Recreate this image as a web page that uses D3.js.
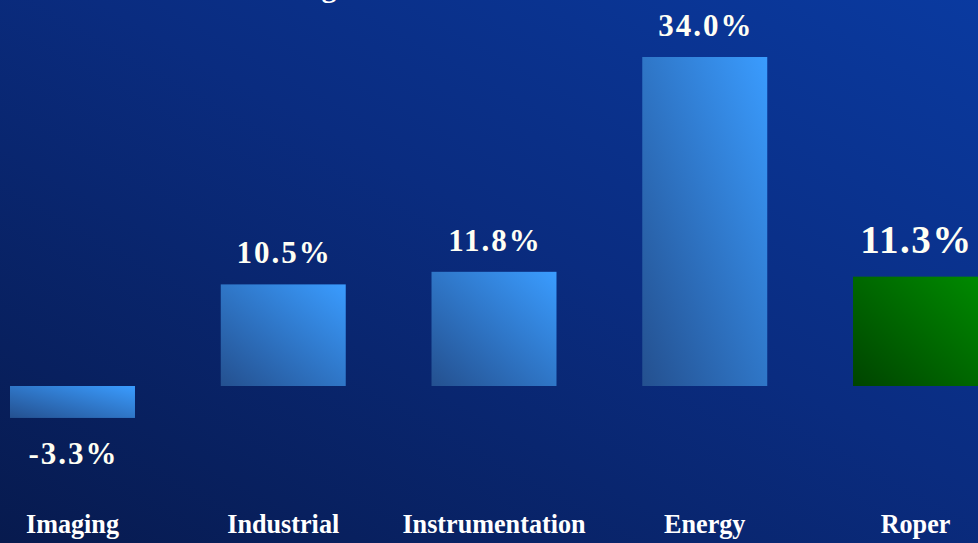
<!DOCTYPE html>
<html>
<head>
<meta charset="utf-8">
<script src="https://cdn.jsdelivr.net/npm/d3@7"></script>
<style>
  html, body { margin: 0; padding: 0; background: #0a2a78; }
  svg { display: block; }
</style>
</head>
<body>
<svg id="chart" width="978" height="543"></svg>
<script>
// data
var segments = ["Imaging", "Industrial", "Instrumentation", "Energy", "Roper"];
var growth = [-3.3, 10.5, 11.8, 34.0, 11.3];
var valueLabels = ["-3.3%", "10.5%", "11.8%", "34.0%", "11.3%"];

var width = 978, height = 543;
var svg = d3.select("#chart");
var defs = svg.append("defs");

// background gradient, darker bottom-left
var bg = defs.append("linearGradient").attr("id", "bg")
  .attr("x1", "0").attr("y1", "1").attr("x2", "1").attr("y2", "0");
bg.append("stop").attr("offset", "0%").attr("stop-color", "#071a4e");
bg.append("stop").attr("offset", "55%").attr("stop-color", "#0a2c80");
bg.append("stop").attr("offset", "100%").attr("stop-color", "#0a3aa0");

var blue = defs.append("linearGradient").attr("id", "blueBar")
  .attr("x1", "0").attr("y1", "1").attr("x2", "1").attr("y2", "0");
blue.append("stop").attr("offset", "0%").attr("stop-color", "#24508f");
blue.append("stop").attr("offset", "100%").attr("stop-color", "#3a9cff");

var green = defs.append("linearGradient").attr("id", "greenBar")
  .attr("x1", "0").attr("y1", "1").attr("x2", "1").attr("y2", "0");
green.append("stop").attr("offset", "0%").attr("stop-color", "#004400");
green.append("stop").attr("offset", "100%").attr("stop-color", "#008a00");

svg.append("rect").attr("width", width).attr("height", height).attr("fill", "url(#bg)");

// title is cut off at the top, only a descender shows
svg.append("text").attr("x", 329).attr("y", -3)
  .attr("text-anchor", "middle")
  .attr("font-family", "Liberation Serif").attr("font-weight", "bold")
  .attr("font-size", 30).attr("fill", "#ffffff").text("g");

var x = d3.scaleBand().domain(segments).range([10, 978])
  .paddingInner(0.407).paddingOuter(0);

var y = d3.scaleLinear().domain([0, 34]).range([386, 57]);

svg.append("g").selectAll("rect")
  .data(segments)
  .enter().append("rect")
  .attr("x", function(d) { return x(d); })
  .attr("width", x.bandwidth())
  .attr("y", function(d, i) { return Math.min(y(growth[i]), y(0)); })
  .attr("height", function(d, i) { return Math.abs(y(growth[i]) - y(0)); })
  .attr("fill", function(d, i) { return i == segments.length - 1 ? "url(#greenBar)" : "url(#blueBar)"; });

// value labels
var last = segments.length - 1;
svg.append("g").selectAll("text")
  .data(segments)
  .enter().append("text")
  .attr("x", function(d, i) { return x(d) + x.bandwidth() / 2 + (i == last ? 1 : 1); })
  .attr("y", function(d, i) {
    if (growth[i] < 0) return y(growth[i]) + 46;
    return y(growth[i]) - (i == last ? 24 : 21);
  })
  .attr("text-anchor", "middle")
  .attr("font-family", "Liberation Serif").attr("font-weight", "bold")
  .attr("font-size", function(d, i) { return i == last ? 39 : 31; })
  .attr("letter-spacing", function(d, i) { return i == last ? 1.5 : 2; })
  .attr("fill", "#fffff4")
  .text(function(d, i) { return valueLabels[i]; });

// category labels, a tall slightly condensed serif
svg.append("g").selectAll("text")
  .data(segments)
  .enter().append("text")
  .attr("transform", function(d) {
    return "translate(" + (x(d) + x.bandwidth() / 2) + ",533) scale(0.97,1)";
  })
  .attr("text-anchor", "middle")
  .attr("font-family", "Liberation Serif").attr("font-weight", "bold")
  .attr("font-size", 27)
  .attr("fill", "#ffffff")
  .text(function(d) { return d; });
</script>
</body>
</html>
